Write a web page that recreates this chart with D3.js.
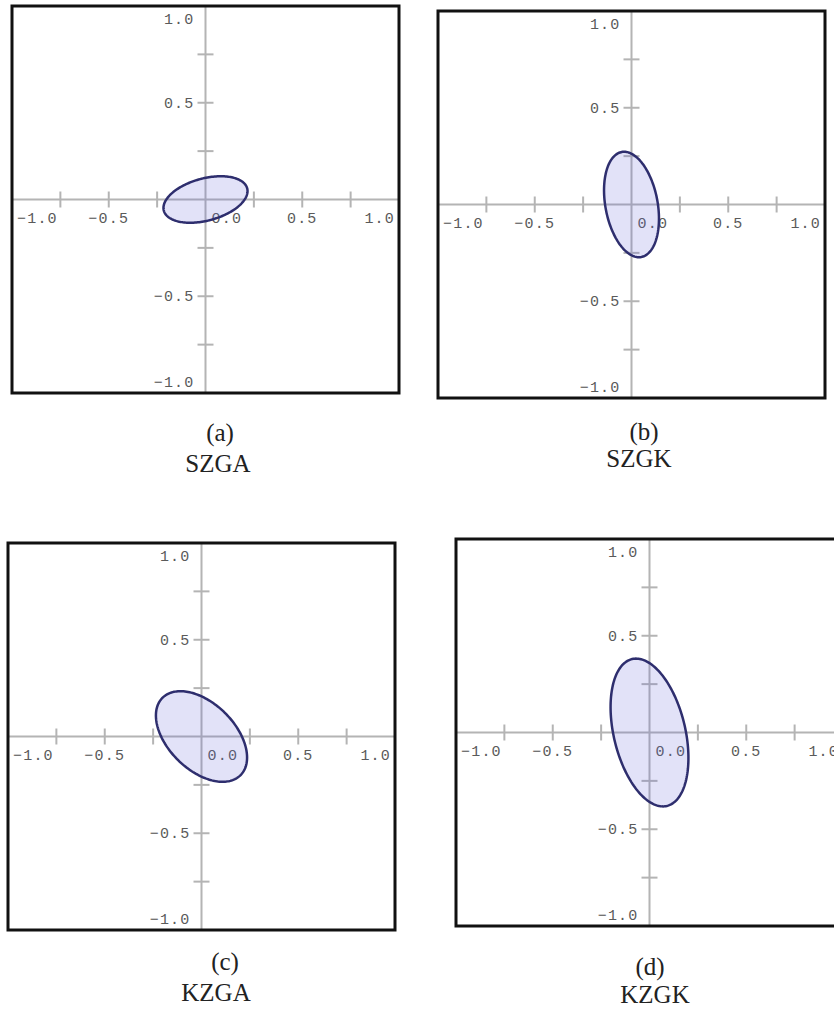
<!DOCTYPE html>
<html>
<head>
<meta charset="utf-8">
<script src="https://cdn.jsdelivr.net/npm/d3@7"></script>
<style>
  html, body { margin: 0; padding: 0; background: #fff; }
  svg { display: block; }
</style>
</head>
<body>
<svg id="chart" width="834" height="1010"></svg>
<script>
// Panel captions
const panelLetters = ["(a)", "(b)", "(c)", "(d)"];
const panelNames = ["SZGA", "SZGK", "KZGA", "KZGK"];

// Ellipse per panel: centre, semi-axes (data units) and rotation of the major axis (degrees)
const ellipseCx = [0.0, 0.0, 0.0, 0.0];
const ellipseCy = [0.0, 0.0, 0.0, 0.0];
const semiMajor = [0.223, 0.276, 0.284, 0.39];
const semiMinor = [0.109, 0.135, 0.172, 0.185];
const rotationDeg = [15, 100.5, -44.6, 103.3];

// Axis ticks and labels
const tickValues = [-0.75, -0.5, -0.25, 0.25, 0.5, 0.75];
const xLabelValues = [-1.0, -0.5, 0.0, 0.5, 1.0];
const yLabelValues = [-1.0, -0.5, 0.5, 1.0];
const domain = [-1, 1];

// Layout of the four framed plots and their captions
const boxSize = 387;
const boxOrigins = [[12, 6], [438, 11], [8, 543], [456, 539]];
const captionPos = [
  { lx: 220, ly: 441, nx: 218, ny: 472 },
  { lx: 644, ly: 440, nx: 639, ny: 467 },
  { lx: 225, ly: 970, nx: 216, ny: 1001 },
  { lx: 650, ly: 975, nx: 655, ny: 1003 }
];

const svg = d3.select("#chart");
svg.append("rect").attr("width", 834).attr("height", 1010).attr("fill", "#fff");

const fmt = d3.format(".1f");
const labelFont = "'Liberation Mono', 'Courier New', monospace";
const tickLen = 8;

panelNames.forEach((name, i) => {
  const [bx, by] = boxOrigins[i];
  const x = d3.scaleLinear().domain(domain).range([0, boxSize]);
  const y = d3.scaleLinear().domain(domain).range([boxSize, 0]);
  const x0 = x(0), y0 = y(0);

  const g = svg.append("g").attr("transform", `translate(${bx},${by})`);

  // axis lines through the origin
  g.append("line")
    .attr("x1", x(domain[0])).attr("x2", x(domain[1]))
    .attr("y1", y0).attr("y2", y0)
    .attr("stroke", "#b4b4b4").attr("stroke-width", 2);
  g.append("line")
    .attr("x1", x0).attr("x2", x0)
    .attr("y1", y(domain[1])).attr("y2", y(domain[0]))
    .attr("stroke", "#b4b4b4").attr("stroke-width", 2);

  // tick marks crossing each axis
  g.selectAll(".xt").data(tickValues).join("line")
    .attr("x1", d => x(d)).attr("x2", d => x(d))
    .attr("y1", y0 - tickLen).attr("y2", y0 + tickLen)
    .attr("stroke", "#b4b4b4").attr("stroke-width", 2);
  g.selectAll(".yt").data(tickValues).join("line")
    .attr("x1", x0 - tickLen).attr("x2", x0 + tickLen)
    .attr("y1", d => y(d)).attr("y2", d => y(d))
    .attr("stroke", "#b4b4b4").attr("stroke-width", 2);

  // x-axis labels, end labels kept inside the frame, zero shifted off the axis
  g.selectAll(".xl").data(xLabelValues).join("text")
    .attr("x", d => d === domain[0] ? x(d) + 5 : d === domain[1] ? x(d) - 4 : d === 0 ? x0 + 6 : x(d))
    .attr("y", y0 + 23)
    .attr("text-anchor", d => d === domain[0] ? "start" : d === domain[1] ? "end" : d === 0 ? "start" : "middle")
    .attr("font-family", labelFont).attr("font-size", 15).attr("letter-spacing", 1.2)
    .attr("fill", "#5a5a5a")
    .text(d => fmt(d));

  // y-axis labels to the left of the vertical axis
  g.selectAll(".yl").data(yLabelValues).join("text")
    .attr("x", x0 - 11)
    .attr("y", d => Math.min(Math.max(y(d), y(domain[1]) + 13), y(domain[0]) - 11) + 5)
    .attr("text-anchor", "end")
    .attr("font-family", labelFont).attr("font-size", 15).attr("letter-spacing", 1.2)
    .attr("fill", "#5a5a5a")
    .text(d => fmt(d));

  const th = rotationDeg[i] * Math.PI / 180;
  const a = semiMajor[i], b = semiMinor[i];
  const pts = d3.range(0, 361, 2).map(deg => {
    const t = deg * Math.PI / 180;
    return [
      ellipseCx[i] + a * Math.cos(t) * Math.cos(th) - b * Math.sin(t) * Math.sin(th),
      ellipseCy[i] + a * Math.cos(t) * Math.sin(th) + b * Math.sin(t) * Math.cos(th)
    ];
  });
  const line = d3.line().x(p => x(p[0])).y(p => y(p[1])).curve(d3.curveLinearClosed);
  g.append("path")
    .attr("d", line(pts))
    .attr("fill", "#6464dc").attr("fill-opacity", 0.19)
    .attr("stroke", "#2e2e6e").attr("stroke-width", 2.5);

  // frame
  g.append("rect")
    .attr("x", 0).attr("y", 0).attr("width", boxSize).attr("height", boxSize)
    .attr("fill", "none").attr("stroke", "#111").attr("stroke-width", 3);

  // caption
  const c = captionPos[i];
  svg.append("text")
    .attr("x", c.lx).attr("y", c.ly).attr("text-anchor", "middle")
    .attr("font-family", "'Liberation Serif', 'Times New Roman', serif")
    .attr("font-size", 25).attr("fill", "#222")
    .text(panelLetters[i]);
  svg.append("text")
    .attr("x", c.nx).attr("y", c.ny).attr("text-anchor", "middle")
    .attr("font-family", "'Liberation Serif', 'Times New Roman', serif")
    .attr("font-size", 25).attr("fill", "#222")
    .text(name);
});
</script>
</body>
</html>
